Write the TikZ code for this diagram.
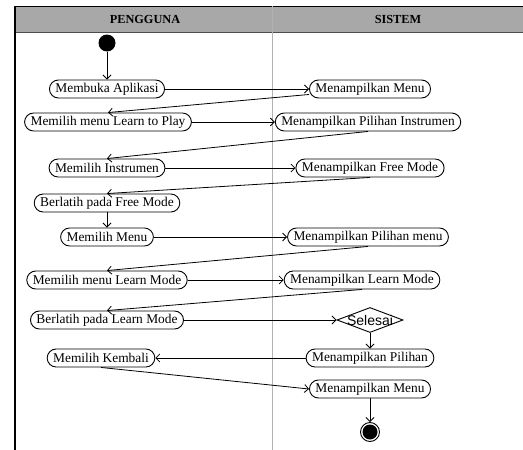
\documentclass[tikz,border=0pt]{standalone}
\usepackage{fontspec}
\setmainfont{Liberation Serif}
\setsansfont{Liberation Sans}
\usetikzlibrary{shapes.geometric,arrows.meta}

\tikzset{
  aktivitas/.style={draw, line width=0.9pt, rounded corners=9pt, minimum height=18pt,
    inner xsep=6pt, inner ysep=1pt, font=\fontsize{13.4}{15}\selectfont},
  keputusan/.style={draw, line width=0.9pt, diamond, inner sep=0pt, minimum width=66pt,
    minimum height=25pt, font=\sffamily\fontsize{14}{16}\selectfont},
  awal/.style={circle, fill=black, minimum size=17pt, inner sep=0pt},
  akhir/.style={circle, draw, line width=0.9pt, minimum size=19pt, inner sep=0pt,
    path picture={\fill (path picture bounding box.center) circle (7.5pt);}},
  alur/.style={-{Straight Barb[length=4pt,width=8pt]}, line width=0.8pt},
  judul/.style={font=\bfseries\fontsize{12.3}{14}\selectfont}
}

\begin{document}
\begin{tikzpicture}[x=1pt, y=-1pt]
  \useasboundingbox (0,0) rectangle (523,450);
  \fill[black!34] (15,6) rectangle (523,32);
  \draw[line width=0.9pt] (15,6) -- (523,6);
  \draw[line width=0.9pt, black!70] (15,32) -- (523,32);
  \draw[black!30, line width=0.8pt] (272,6) -- (272,450);
  \draw[line width=1.2pt] (15,6) -- (15,450);
  \node[judul] (pengguna) at (145,19) {PENGGUNA};
  \node[judul] (sistem) at (398,19) {SISTEM};

  \node[awal] (mulai) at (107,43) {};
  \node[aktivitas] (membuka) at (107,89) {Membuka Aplikasi};
  \node[aktivitas] (menu) at (370,89) {Menampilkan Menu};
  \node[aktivitas] (learnplay) at (108,122) {Memilih menu Learn to Play};
  \node[aktivitas] (pilihinstrumen) at (368,122) {Menampilkan Pilihan Instrumen};
  \node[aktivitas] (instrumen) at (107,168) {Memilih Instrumen};
  \node[aktivitas] (freemode) at (370,168) {Menampilkan Free Mode};
  \node[aktivitas] (latihfree) at (107,203) {Berlatih pada Free Mode};
  \node[aktivitas] (pilihmenu) at (107,237) {Memilih Menu};
  \node[aktivitas] (pilihanmenu) at (368,237) {Menampilkan Pilihan menu};
  \node[aktivitas] (learnmode) at (107,280) {Memilih menu Learn Mode};
  \node[aktivitas] (tampillearn) at (362,280) {Menampilkan Learn Mode};
  \node[aktivitas] (latihlearn) at (107,320) {Berlatih pada Learn Mode};
  \node[keputusan] (selesai) at (370,320) {\makebox[0pt]{Selesai}};
  \node[aktivitas] (kembali) at (101,358) {Memilih Kembali};
  \node[aktivitas] (pilihan) at (370,358) {Menampilkan Pilihan};
  \node[aktivitas] (menuakhir) at (370,389) {Menampilkan Menu};
  \node[akhir] (selesaiakhir) at (370,432) {};

  \draw[alur] (mulai) -- (membuka);
  \draw[alur] (membuka) -- (menu);
  \draw[alur] (menu) -- (learnplay.north);
  \draw[alur] (learnplay) -- (pilihinstrumen);
  \draw[alur] (pilihinstrumen.south) -- (instrumen.north);
  \draw[alur] (instrumen) -- (freemode);
  \draw[alur] (freemode.south) -- (latihfree.north);
  \draw[alur] (latihfree) -- (pilihmenu);
  \draw[alur] (pilihmenu) -- (pilihanmenu);
  \draw[alur] (pilihanmenu.south) -- (learnmode.north);
  \draw[alur] (learnmode) -- (tampillearn);
  \draw[alur] (tampillearn.south) -- (latihlearn.north);
  \draw[alur] (latihlearn) -- (selesai);
  \draw[alur] (selesai) -- (pilihan);
  \draw[alur] (pilihan) -- (kembali);
  \draw[alur] (kembali.south) -- (menuakhir.west);
  \draw[alur] (menuakhir) -- (selesaiakhir);
\end{tikzpicture}
\end{document}
